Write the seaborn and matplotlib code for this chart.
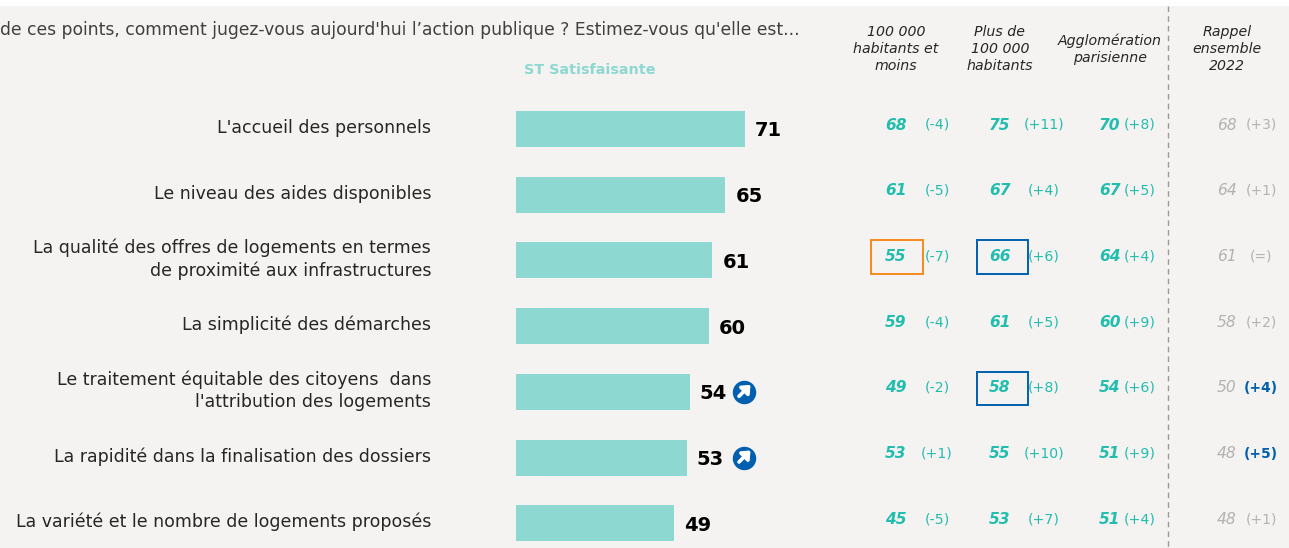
import matplotlib
matplotlib.use("Agg")
import matplotlib.pyplot as plt
import pandas as pd
import seaborn as sns
from matplotlib.patches import Rectangle
from matplotlib.transforms import Affine2D

categories = ["L'accueil des personnels", "Le niveau des aides disponibles",
              "La qualité des offres de logements en termes\nde proximité aux infrastructures",
              "La simplicité des démarches",
              "Le traitement équitable des citoyens  dans\nl'attribution des logements",
              "La rapidité dans la finalisation des dossiers",
              "La variété et le nombre de logements proposés"]
satisfaisante = [71, 65, 61, 60, 54, 53, 49]
arrows = [4, 5]
col1_values = [68, 61, 55, 59, 49, 53, 45]
col1_deltas = ["(-4)", "(-5)", "(-7)", "(-4)", "(-2)", "(+1)", "(-5)"]
col2_values = [75, 67, 66, 61, 58, 55, 53]
col2_deltas = ["(+11)", "(+4)", "(+6)", "(+5)", "(+8)", "(+10)", "(+7)"]
col3_values = [70, 67, 64, 60, 54, 51, 51]
col3_deltas = ["(+8)", "(+5)", "(+4)", "(+9)", "(+6)", "(+9)", "(+4)"]
col4_values = [68, 64, 61, 58, 50, 48, 48]
col4_deltas = ["(+3)", "(+1)", "(=)", "(+2)", "(+4)", "(+5)", "(+1)"]
headers = ["100 000\nhabitants et\nmoins", "Plus de\n100 000\nhabitants", "Agglomération\nparisienne", "Rappel\nensemble\n2022"]
title = "de ces points, comment jugez-vous aujourd'hui l\u2019action publique ? Estimez-vous qu'elle est..."
series_name = "ST Satisfaisante"

W, H = 1289, 548
BG, BAR, TEAL, GREY, BLUE, ORANGE = "#F5F3F1", "#8DD8D1", "#22BDAE", "#B2B2B2", "#005FAE", "#F58A1F"

sns.set_style("white")
plt.rcParams["font.family"] = ["DejaVu Sans"]
fig = plt.figure(figsize=(W / 100, H / 100), dpi=100, facecolor="white")
ax = fig.add_axes([0, 0, 1, (H - 6) / H], facecolor=BG)

df = pd.DataFrame({"cat": categories, "val": satisfaisante})
sns.barplot(data=df, y="cat", x="val", color=BAR, saturation=1, width=36 / 65.7, linewidth=0, ax=ax)

PX_X = 3.22
PX_Y = 65.7
Y0 = 129
X0 = 516
ax.set_xlim(-X0 / PX_X, (W - X0) / PX_X)
ax.set_ylim((H - Y0) / PX_Y, (6 - Y0) / PX_Y)
ax.set(xlabel="", ylabel="", xticks=[], yticks=[])
sns.despine(ax=ax, left=True, bottom=True)

px = lambda p: (p - X0) / PX_X
py = lambda p: (p - Y0) / PX_Y
pixel = Affine2D().scale(1 / W, -1 / H).translate(0, 1) + fig.transFigure

for i, c in enumerate(categories):
    ax.text(px(431), i - 1 / PX_Y, c, ha="right", va="center", fontsize=12.5, color="#262626", linespacing=1.27)

for i, v in enumerate(satisfaisante):
    ax.text(v + 10 / PX_X, i + 2 / PX_Y, str(v), ha="left", va="center", fontsize=14, fontweight="bold", color="black")

for i in arrows:
    x = px(743.5)
    ax.scatter([x], [i], s=285, color=BLUE, zorder=3, linewidths=0)
    ax.annotate("", xy=(x + 7 / PX_X, i - 7 / PX_Y), xytext=(x - 4.5 / PX_X, i + 4.5 / PX_Y),
                zorder=4, arrowprops=dict(arrowstyle="-|>,head_length=0.42,head_width=0.36", color="white",
                                          lw=2.6, shrinkA=0, shrinkB=0))

columns = [
    (col1_values, col1_deltas, 896, 937),
    (col2_values, col2_deltas, 1000, 1044),
    (col3_values, col3_deltas, 1110, 1140),
]
dy = -4 / PX_Y
for vals, deltas, xv, xd in columns:
    for i, (v, d) in enumerate(zip(vals, deltas)):
        ax.text(px(xv), i + dy, str(v), ha="center", va="center", fontsize=11.2, fontweight="bold", fontstyle="italic", color=TEAL)
        ax.text(px(xd), i + dy, d, ha="center", va="center", fontsize=10.2, color=TEAL)
for i, (v, d) in enumerate(zip(col4_values, col4_deltas)):
    ax.text(px(1227), i + dy, str(v), ha="center", va="center", fontsize=11.2, fontstyle="italic", color=GREY)
    strong = i in arrows
    ax.text(px(1261), i + dy, d, ha="center", va="center", fontsize=10,
            fontweight="bold" if strong else "normal", color=BLUE if strong else GREY)

for xc, yc, h in zip([896, 1000, 1110, 1227], [49, 49, 49, 49], headers):
    ax.text(px(xc), py(yc), h, ha="center", va="center", fontsize=10.2, fontstyle="italic", color="#262626", linespacing=1.3)

ax.text(px(800), py(30), title, ha="right", va="center", fontsize=12.3, color="#404040")
ax.text(px(590), py(70), series_name, ha="center", va="center", fontsize=10.4, fontweight="bold", color=BAR)

ax.plot([px(1168)] * 2, [py(6), py(H)], color="#9A9A9A", lw=1, ls=(0, (4, 3)))

for (x0, y0, x1, y1, col) in [(871, 240, 923, 274, ORANGE), (977, 240, 1028, 274, BLUE), (977, 372, 1028, 405, BLUE)]:
    fig.add_artist(Rectangle((x0, y0), x1 - x0, y1 - y0, transform=pixel, fill=False, edgecolor=col, lw=1.4))

fig.savefig("out.png", dpi=100, facecolor="white")
